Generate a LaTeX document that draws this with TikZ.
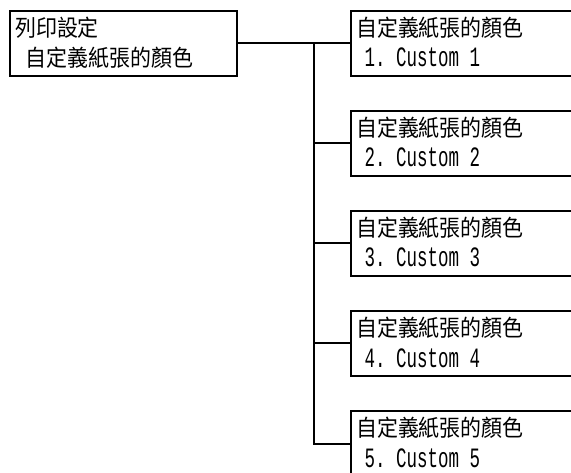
\documentclass[tikz,border=0pt]{standalone}
\usepackage{fontspec}
\newfontfamily\cjk[FakeStretch=0.91]{Noto Sans CJK TC}
\newfontfamily\mono[FakeStretch=0.625]{Liberation Mono}
\usetikzlibrary{calc}
\begin{document}
\begin{tikzpicture}[x=1pt,y=-1pt,
  box/.style={draw, line width=2pt, inner sep=0pt, outer sep=0pt, anchor=north west, minimum height=65pt},
  cj/.style={anchor=base west, inner sep=0pt, font=\cjk\fontsize{23}{23}\selectfont},
  lt/.style={anchor=base west, inner sep=0pt, font=\mono\fontsize{28}{28}\selectfont},
  conn/.style={line width=2pt}]
\useasboundingbox (0,0) rectangle (571,473);
\clip (0,0) rectangle (571,473);
\node[box, minimum width=227pt] (L) at (10,11) {};
\node[cj] (Lt1) at ([shift={(5,25.5)}]L.north west) {列印設定};
\node[cj] (Lt2) at ([shift={(15.5,55.5)}]L.north west) {自定義紙張的顏色};
\foreach \i in {1,...,5} {
  \node[box, minimum width=249pt] (B\i) at (351,{11+100*(\i-1)}) {};
  \node[cj] (B\i t1) at ([shift={(5,25.5)}]B\i.north west) {自定義紙張的顏色};
  \node[lt] (B\i t2) at ([shift={(3,56)}]B\i.north west) {~\i.~Custom~\i};
}
\coordinate (T) at (314,0);
\draw[conn] (L.east) -- (B1.west);
\draw[conn] (T |- B1.west) -- (T |- B5.west);
\foreach \i in {2,...,5} {
  \draw[conn] ([xshift=-1pt]T |- B\i.west) -- (B\i.west);
}
\end{tikzpicture}
\end{document}
